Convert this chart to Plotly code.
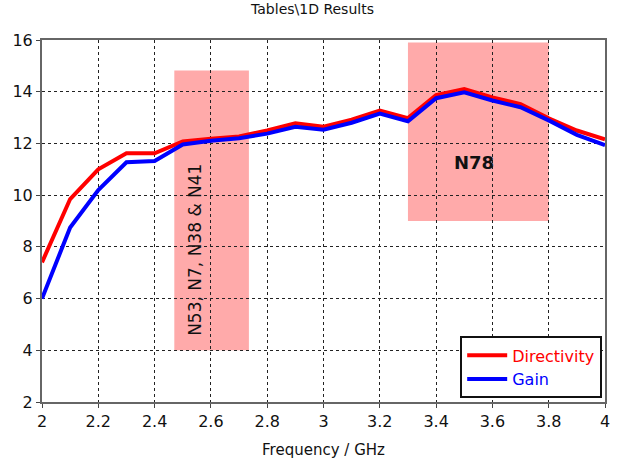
import plotly.graph_objects as go

# Frequency sweep (GHz)
freq = [2.0, 2.1, 2.2, 2.3, 2.4, 2.5, 2.6, 2.7, 2.8, 2.9, 3.0,
        3.1, 3.2, 3.3, 3.4, 3.5, 3.6, 3.7, 3.8, 3.9, 4.0]

# Directivity and gain (dBi)
directivity = [7.4, 9.85, 11.0, 11.62, 11.62, 12.08, 12.18, 12.27, 12.5, 12.78, 12.65,
               12.92, 13.27, 12.98, 13.87, 14.1, 13.78, 13.52, 12.97, 12.5, 12.16]
gain = [6.0, 8.75, 10.2, 11.27, 11.32, 11.96, 12.1, 12.2, 12.38, 12.64, 12.53,
        12.8, 13.15, 12.86, 13.75, 13.98, 13.66, 13.4, 12.89, 12.33, 11.93]

# Highlighted bands
band_x0 = [2.47, 3.3]
band_x1 = [2.735, 3.8]
band_y0 = [4.0, 9.0]
band_y1 = [14.82, 15.9]
band_labels = ["N53, N7, N38 & N41", "N78"]

x_ticks = [2, 2.2, 2.4, 2.6, 2.8, 3, 3.2, 3.4, 3.6, 3.8, 4]
y_ticks = [2, 4, 6, 8, 10, 12, 14, 16]

FONT = "DejaVu Sans"

fig = go.Figure()
fig.add_trace(go.Scatter(x=freq, y=directivity, mode="lines",
                         name='<span style="color:#FF0000">Directivity</span>',
                         line=dict(color="#FF0000", width=4)))
fig.add_trace(go.Scatter(x=freq, y=gain, mode="lines",
                         name='<span style="color:#0000FF">Gain</span>',
                         line=dict(color="#0000FF", width=4)))

for x0, x1, y0, y1 in zip(band_x0, band_x1, band_y0, band_y1):
    fig.add_shape(type="rect", x0=x0, x1=x1, y0=y0, y1=y1, xref="x", yref="y",
                  fillcolor="#FFAAAA", line=dict(width=0), layer="below")

fig.add_annotation(x=2.545, y=7.9, text=band_labels[0],
                   textangle=-90, showarrow=False,
                   font=dict(family=FONT, size=17, color="#111111"))
fig.add_annotation(x=3.535, y=11.25, text="<b>" + band_labels[1] + "</b>",
                   showarrow=False, font=dict(family=FONT, size=18, color="#111111"))

fig.update_layout(
    width=625, height=469,
    margin=dict(l=42, r=20, t=40, b=67),
    paper_bgcolor="white", plot_bgcolor="rgba(0,0,0,0)",
    title=dict(text="Tables\\1D Results", x=0.5, xanchor="center", y=0.99, yanchor="top",
               font=dict(family=FONT, size=14, color="#111111")),
    font=dict(family=FONT, size=15, color="#111111"),
    legend=dict(x=0.995, xanchor="right", y=0.01, yanchor="bottom",
                bgcolor="white", bordercolor="#111111", borderwidth=2,
                font=dict(family=FONT, size=16), itemwidth=40,
                tracegroupgap=0),
    showlegend=True,
)
fig.update_xaxes(range=[2, 4], tickvals=x_ticks, ticktext=[f"{v:g}" for v in x_ticks],
                 showgrid=True, gridcolor="#222222", griddash="dot", gridwidth=1,
                 showline=True, linecolor="#666666", linewidth=2, mirror=True,
                 ticks="outside", ticklen=4, tickcolor="#444444",
                 title=dict(text="Frequency / GHz", font=dict(family=FONT, size=15), standoff=14),
                 zeroline=False, tickfont=dict(size=16))
fig.update_yaxes(range=[2, 16], tickvals=y_ticks,
                 showgrid=True, gridcolor="#222222", griddash="dot", gridwidth=1,
                 showline=True, linecolor="#666666", linewidth=2, mirror=True,
                 ticks="outside", ticklen=4, tickcolor="#444444",
                 zeroline=False, tickfont=dict(size=16))

fig.write_html("out.html")
